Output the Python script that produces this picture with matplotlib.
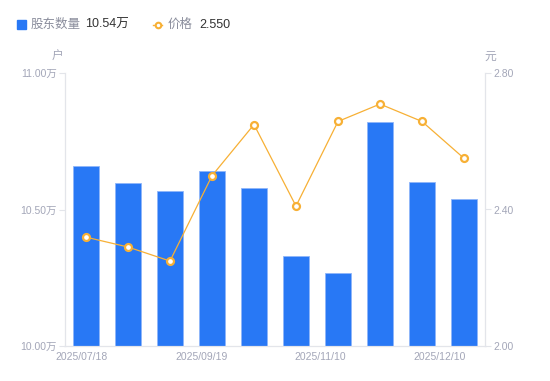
import numpy as np
import matplotlib.pyplot as plt

plt.rcParams['font.family'] = ['Liberation Sans', 'Noto Sans CJK SC', 'DejaVu Sans']

dates = ['2025/07/18', '2025/08/08', '2025/08/29', '2025/09/19', '2025/09/30',
         '2025/10/20', '2025/10/31', '2025/11/10', '2025/11/28', '2025/12/10']
holders = np.array([10.659, 10.597, 10.567, 10.641, 10.578, 10.328, 10.266, 10.819, 10.599, 10.54])
price = np.array([2.319, 2.290, 2.249, 2.499, 2.649, 2.410, 2.658, 2.709, 2.658, 2.550])
tick_labels = ['2025/07/18', '2025/09/19', '2025/11/10', '2025/12/10']

blue = '#2878f5'
orange = '#f7b035'
grey = '#a3a6b8'
axis_c = '#e3e5ea'

fig = plt.figure(figsize=(5.5, 3.81), dpi=100)
ax = fig.add_axes([65 / 550, 35 / 381, 420 / 550, 273 / 381])
ax2 = ax.twinx()

x = np.arange(len(dates))
ax.bar(x, holders - 10.0, bottom=10.0, width=0.6, color=blue,
       edgecolor='#8fb6fa', linewidth=0.6, zorder=2)
ax.set_xlim(-0.5, len(dates) - 0.5)
ax.set_ylim(10.0, 11.0)
ax.set_yticks([10.0, 10.5, 11.0])
ax.set_yticklabels(['10.00万', '10.50万', '11.00万'])

ax2.plot(x, price, color=orange, linewidth=0.9, marker='o', markersize=5,
         markerfacecolor='white', markeredgecolor=orange, markeredgewidth=1.6, zorder=3)
ax2.set_ylim(2.0, 2.8)
ax2.set_yticks([2.0, 2.4, 2.8])
ax2.set_yticklabels(['2.00', '2.40', '2.80'])

# date labels spread evenly under the axis
pos = np.linspace(-0.1, 8.43, len(tick_labels))
ax.set_xticks(pos)
ax.set_xticklabels(tick_labels)

for a in (ax, ax2):
    a.spines['top'].set_visible(False)
    a.spines['left'].set_color(axis_c)
    a.spines['right'].set_color(axis_c)
    a.spines['bottom'].set_color(axis_c)
    a.tick_params(axis='y', colors=axis_c, labelcolor=grey, labelsize=7.5, length=4, pad=2)
ax.tick_params(axis='x', length=0, labelcolor=grey, labelsize=7.5, pad=4)

fig.text(58 / 550, 1 - 57 / 381, '户', color=grey, fontsize=8.5, ha='center', va='center')
fig.text(490 / 550, 1 - 57 / 381, '元', color=grey, fontsize=8.5, ha='center', va='center')

# legend row
ly = 1 - 24.5 / 381
fig.patches.append(plt.Rectangle((17 / 550, 1 - 29 / 381), 9 / 550, 9 / 381,
                                 transform=fig.transFigure, color=blue))
fig.text(31 / 550, ly, '股东数量', color='#8a8d9c', fontsize=9, va='center')
fig.text(85 / 550, ly, '%.2f万' % holders[-1], color='#333333', fontsize=9, va='center')
fig.lines.append(plt.Line2D([153 / 550, 157.5 / 550, 162 / 550], [ly] * 3, transform=fig.transFigure,
                            color=orange, linewidth=1, marker='o', markersize=4, markevery=[1],
                            markerfacecolor='white', markeredgecolor=orange, markeredgewidth=1.5))
fig.text(168 / 550, ly, '价格', color='#8a8d9c', fontsize=9, va='center')
fig.text(199 / 550, ly, '%.3f' % price[-1], color='#333333', fontsize=9, va='center')

fig.savefig('out.png', dpi=100)
